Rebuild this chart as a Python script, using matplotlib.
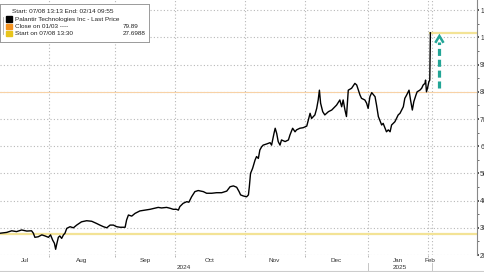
import matplotlib.pyplot as plt
import numpy as np
from matplotlib.patches import Rectangle

plt.rcParams['font.family'] = ['Liberation Sans', 'DejaVu Sans']

# trading days since 07/08/2024 and Palantir last price (USD)
day = [1.7, 3.9, 5.6, 7.2, 8.9, 10.6, 12.2, 12.8, 13.3, 14.4, 15.6, 16.7, 17.8, 18.5,
       19.2, 19.8, 20.2, 20.5, 21.1, 21.6, 22.2, 22.8, 23.3, 23.9, 25.0, 26.1, 27.2,
       28.8, 30.5, 32.2, 33.8, 34.9, 36.1, 37.2, 38.3, 39.4, 40.5, 41.6, 43.3, 43.8,
       44.4, 45.5, 46.6, 48.2, 49.9, 51.6, 53.2, 54.3, 55.4, 57.1, 58.2, 59.3, 60.4,
       61.0, 61.5, 62.6, 63.8, 64.5, 65.4, 66.5, 67.6, 69.3, 70.4, 72.1, 73.7, 75.4,
       77.1, 78.2, 79.3, 80.4, 81.2, 81.7, 82.6, 83.7, 84.3, 84.6, 85.0, 85.7, 86.5,
       87.0, 87.6, 88.1, 88.7, 89.2, 90.3, 91.5, 92.0, 92.8, 93.2, 93.7, 94.2, 94.8,
       95.3, 96.5, 97.6, 98.1, 99.0, 99.8, 100.3, 101.4, 102.5, 103.7, 104.2, 104.8,
       105.3, 106.4, 107.0, 107.5, 107.9, 108.3, 109.0, 109.7, 110.9, 112.0, 113.1,
       113.6, 114.7, 115.3, 115.8, 116.4, 116.9, 117.5, 118.6, 119.7, 120.3, 121.4,
       121.9, 123.0, 123.6, 124.1, 124.7, 125.3, 126.4, 126.9, 127.5, 128.6, 129.1,
       130.2, 130.8, 131.4, 131.9, 133.0, 134.1, 134.7, 135.8, 136.3, 136.9, 137.7,
       138.2, 138.8, 139.3, 140.0, 140.4, 141.3, 141.9, 142.4, 143.0, 143.2, 143.5,
       143.9, 144.3, 144.6, 144.8]
price = [28.0, 28.3, 28.9, 28.6, 29.2, 28.8, 28.9, 28.0, 26.5, 26.7, 27.4, 27.0, 26.5, 27.4,
         25.5, 24.3, 22.1, 23.7, 26.5, 27.0, 26.1, 27.4, 28.0, 29.8, 30.4, 30.0, 31.0,
         32.2, 32.6, 32.4, 31.6, 31.0, 30.4, 30.0, 31.0, 31.0, 30.4, 30.2, 30.2, 32.9,
         34.7, 34.3, 35.3, 36.2, 36.5, 36.8, 37.2, 37.5, 37.3, 37.5, 37.2, 36.8, 36.8,
         36.5, 37.8, 39.0, 39.6, 39.4, 41.4, 43.3, 43.7, 43.3, 42.7, 42.7, 42.9, 42.9,
         43.5, 45.1, 45.4, 44.9, 43.3, 42.1, 41.7, 41.4, 42.1, 45.1, 50.0, 51.9, 54.9,
         56.2, 55.5, 58.6, 59.8, 60.4, 60.8, 61.3, 60.4, 64.7, 66.6, 64.7, 61.7, 60.4,
         62.3, 61.7, 62.3, 64.1, 66.6, 65.3, 66.0, 66.6, 66.8, 67.4, 69.6, 72.1,
         70.2, 71.5, 73.9, 77.0, 80.6, 75.8, 72.7, 71.5, 72.7, 73.3, 74.5,
         75.1, 77.0, 74.5, 77.0, 73.3, 70.9, 80.6, 81.3, 83.1, 82.5, 78.8,
         77.6, 77.0, 75.8, 73.9, 78.2, 79.7, 78.2, 75.1, 70.9, 67.8, 68.4,
         65.3, 66.0, 65.3, 67.8, 69.0, 71.5, 72.1, 74.5, 77.6, 78.8, 80.6,
         77.0, 73.3, 76.4, 78.8, 80.0, 80.6, 81.3, 82.5, 83.1, 84.3, 80.0,
         81.6, 83.7, 84.3, 101.7]

close_0103 = 79.89
start_0708 = 27.6988
arrow_from = 81.3
arrow_to = 100.5

holidays = ['2024-09-02', '2024-11-28', '2024-12-25', '2025-01-01', '2025-01-09', '2025-01-20']
month_starts = ['2024-08-01', '2024-09-01', '2024-10-01', '2024-11-01',
                '2024-12-01', '2025-01-01', '2025-02-01']
month_names = ['Jul', 'Aug', 'Sep', 'Oct', 'Nov', 'Dec', 'Jan', 'Feb']
year_names = ['2024', '2025']

legend_title = 'Start: 07/08 13:13 End: 02/14 09:55'
legend_rows = [('Palantir Technologies Inc - Last Price', '', '#000000'),
               ('Close on 01/03 ----', '79.89', '#f39220'),
               ('Start on 07/08 13:30', '27.6988', '#e8c51c')]

bounds = [int(np.busday_count('2024-07-08', d, holidays=holidays)) for d in month_starts]
x0, x1 = 1.7, 160.3
data_end = day[-1] + 0.5
grid = '#b8b8b8'

fig = plt.figure(figsize=(4.85, 2.72), dpi=100)
ax = fig.add_axes([0, 17 / 272, 477 / 485, 255 / 272])
ax.set_xlim(x0, x1)
ax.set_ylim(20, 113.75)

# grid
for v in range(20, 111, 10):
    ax.axhline(v, color=grid, lw=0.8, ls=(0, (1, 2)), zorder=0)
for b in bounds + [data_end]:
    ax.axvline(b, color=grid, lw=0.8, ls=(0, (1, 2)), zorder=0)

# reference lines
ax.axhline(close_0103, color='#f8d2a6', lw=0.8, zorder=1)
ax.axhline(start_0708, color='#f3e396', lw=1.6, zorder=1)
ax.plot([day[-1], x1], [price[-1], price[-1]], color='#f3e396', lw=1.6, zorder=1)

ax.plot(day, price, color='black', lw=1.0, zorder=3)

# arrow
teal = '#22a596'
ax_x = day[-1] + 3.0
ax.plot([ax_x, ax_x], [arrow_from, arrow_to - 2.2], color=teal, lw=2.3,
        ls=(0, (2.2, 1.2)), solid_capstyle='butt', zorder=4)
ax.plot([ax_x - 1.15, ax_x, ax_x + 1.15], [arrow_to - 2.1, arrow_to, arrow_to - 2.1],
        color=teal, lw=1.8, solid_joinstyle='miter', zorder=4)

# axes styling
for s in ['top', 'left', 'bottom']:
    ax.spines[s].set_visible(False)
ax.spines['right'].set_color('#888888')
ax.spines['right'].set_linewidth(0.8)
ax.yaxis.tick_right()
ax.set_yticks(range(20, 111, 10))
ax.set_yticks(range(25, 111, 10), minor=True)
ax.tick_params(axis='y', which='major', length=1.5, width=1.2, pad=0.8, labelsize=4.8,
               colors='#333333')
ax.tick_params(axis='y', which='minor', length=1.5, width=0.6, colors='#555555')
ax.set_xticks(bounds)
ax.set_xticklabels([])
ax.tick_params(axis='x', length=1.5, width=0.5, colors='#999999')

# month and year labels
edges = [x0] + bounds + [data_end]
xt = ax.get_xaxis_transform()
for i, name in enumerate(month_names):
    ax.text((edges[i] + edges[i + 1]) / 2, -0.02, name, transform=xt, ha='center',
            va='center', fontsize=4.6, color='#333333')
ax.text((x0 + bounds[5]) / 2, -0.048, year_names[0], transform=xt, ha='center',
        va='center', fontsize=4.6, color='#333333')
ax.text((bounds[5] + data_end) / 2, -0.048, year_names[1], transform=xt, ha='center',
        va='center', fontsize=4.6, color='#333333')
for b in [bounds[5], data_end]:
    ax.plot([b, b], [-0.031, -0.07], transform=xt, color='#bbbbbb', lw=0.6, clip_on=False)
fig.add_artist(plt.Line2D([0, 1], [1.5 / 272, 1.5 / 272], color='#cccccc', lw=0.8))

# legend box
lg = fig.add_axes([0, 1 - 42 / 272, 148.5 / 485, 38 / 272])
lg.set_xlim(0, 148.5)
lg.set_ylim(42, 4)
lg.set_xticks([])
lg.set_yticks([])
for s in lg.spines.values():
    s.set_color('#9a9a9a')
    s.set_linewidth(0.7)
lg.text(11.5, 11.8, legend_title, fontsize=4.6, va='center', ha='left', color='#222222')
lg.plot([3, 3], [16.5, 34], color='#aaaaaa', lw=0.6)
for i, (label, val, col) in enumerate(legend_rows):
    y = 19.2 + i * 7.2
    lg.add_patch(Rectangle((6, y - 2.8), 6, 5.6, color=col))
    lg.text(15, y, label, fontsize=4.6, va='center', ha='left', color='#222222')
    if val:
        lg.text(123, y, val, fontsize=4.6, va='center', ha='left', color='#222222')

plt.savefig('out.png', dpi=100)
